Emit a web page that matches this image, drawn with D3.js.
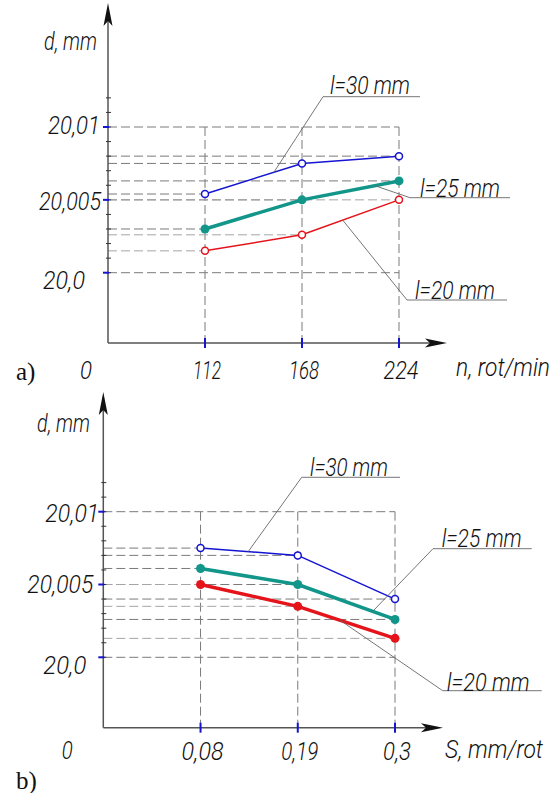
<!DOCTYPE html>
<html>
<head>
<meta charset="utf-8">
<script src="https://cdn.jsdelivr.net/npm/d3@7"></script>
<style>
    html, body { margin: 0; padding: 0; background: #fff; }
    svg { display: block; }
    .gost { font-family: Roboto, 'Liberation Sans Narrow', 'DejaVu Sans Condensed', sans-serif; font-style: italic; font-weight: 300; font-size: 25px; fill: #111; }
    .serif { font-family: 'Liberation Serif', 'DejaVu Serif', serif; font-size: 25px; fill: #111; }
</style>
</head>
<body>
<svg width="560" height="793"></svg>
<script>
// chart data

// a) diameter vs spindle speed
const N_LABELS = ['0', '112', '168', '224'];
const N_D_L30 = [20.0054, 20.0075, 20.008];
const N_D_L25 = [20.003, 20.005, 20.0063];
const N_D_L20 = [20.0015, 20.0026, 20.005];

// b) diameter vs feed
const S_LABELS = ['0', '0,08', '0,19', '0,3'];
const S_D_L30 = [20.0075, 20.007, 20.004];
const S_D_L25 = [20.0061, 20.005, 20.0026];
const S_D_L20 = [20.005, 20.0035, 20.0013];

const SERIES = ['l=30 mm', 'l=25 mm', 'l=20 mm'];
const D_TICKS = [20.0, 20.005, 20.01];
const D_TICK_LABELS = ['20,0', '20,005', '20,01'];
const D_MINOR_STEP = 0.001;
const D_MINOR_MAX = 20.012;

var COLORS = ['#1414d2', '#12968a', '#e5141b'];
var GRID = '#7a7a7a';

var svg = d3.select('svg');

drawPanel({
    xLabels: N_LABELS,
    values: [N_D_L30, N_D_L25, N_D_L20],
    xTitle: 'n, rot/min',
    panelLabel: 'a)',
    left: 108, right: 399, axisY: 343, yLow: 272.7, yHigh: 127,
    arrowTop: 3, arrowRight: 447,
    widths: [1.5, 3.5, 1.5], filled: [false, true, false],
    yLabelOffsets: [[-23, 7], [-7, 1], [-8, -2]],
    zeroOffset: [-22, 27], tickLabelDy: 27, tickLabelWidths: [12, 28, 30, 35],
    yLabelWidths: [42, 62, 52],
    yTitle: { x: 97, y: 41 }, xTitleOffset: [9, 24], xTitleWidth: 94, panelLabelY: 372,
    notes: [
        { seg: 0, t: 0.71, x1: 323, x2: 420, y: 96.7, tx: 330, ty: 85, w: 80 },
        { seg: 1, t: 0.75, x1: 410, x2: 510, y: 197.7, tx: 420, ty: 188, w: 80 },
        { seg: 1, t: 0.42, x1: 407, x2: 507, y: 300, tx: 415, ty: 290, w: 80 }
    ]
});

drawPanel({
    xLabels: S_LABELS,
    values: [S_D_L30, S_D_L25, S_D_L20],
    xTitle: 'S, mm/rot',
    panelLabel: 'b)',
    left: 103.3, right: 395, axisY: 727.7, yLow: 657.3, yHigh: 511.7,
    arrowTop: 392, arrowRight: 443,
    widths: [1.5, 3.5, 3.5], filled: [false, true, true],
    yLabelOffsets: [[-17, 8], [-10, -1], [-4, 1]],
    zeroOffset: [-36, 22], tickLabelDy: 23, tickLabelWidths: [11, 42, 37, 28],
    yLabelWidths: [43, 66, 54],
    yTitle: { x: 90, y: 423 }, xTitleOffset: [2, 21], xTitleWidth: 98, panelLabelY: 781,
    notes: [
        { seg: 0, t: 0.49, x1: 301.7, x2: 400, y: 477.3, tx: 310, ty: 467, w: 78 },
        { seg: 1, t: 0.77, x1: 433, x2: 531.7, y: 548.7, tx: 441.7, ty: 538, w: 80 },
        { seg: 1, t: 0.435, x1: 442.7, x2: 541.7, y: 690.7, tx: 446.7, ty: 681.7, w: 83 }
    ]
});

// draw one panel: axes, dashed grid, three series, leaders
function drawPanel(p) {

    var g = svg.append('g');

    // x positions are evenly spaced, origin included
    var xScale = d3.scalePoint().domain(p.xLabels).range([p.left, p.right]);
    var yScale = d3.scaleLinear().domain([D_TICKS[0], D_TICKS[2]]).range([p.yLow, p.yHigh]);

    var cats = p.xLabels.slice(1);
    var xLast = xScale(cats[cats.length - 1]);

    function dashed(x1, y1, x2, y2, color) {
        g.append('line')
            .attr('x1', x1).attr('y1', y1)
            .attr('x2', x2).attr('y2', y2)
            .attr('stroke', color || GRID)
            .attr('stroke-width', 1)
            .attr('stroke-dasharray', '9,4');
    }

    // vertical dashed lines at each category
    cats.forEach(function(c) {
        dashed(xScale(c), yScale(D_TICKS[2]), xScale(c), p.axisY);
    });

    // frame lines at 20,0 and 20,01
    dashed(p.left, yScale(D_TICKS[0]), xLast, yScale(D_TICKS[0]));
    dashed(p.left, yScale(D_TICKS[2]), xLast, yScale(D_TICKS[2]));

    // projection lines from the axis to every point
    p.values.forEach(function(vals, si) {
        vals.forEach(function(v, i) {
            dashed(p.left, yScale(v), xScale(cats[i]), yScale(v), si === 2 ? '#a5a5a5' : GRID);
        });
    });

    // axes
    g.append('line')
        .attr('x1', p.left).attr('y1', p.axisY)
        .attr('x2', p.arrowRight - 6).attr('y2', p.axisY)
        .attr('stroke', '#555').attr('stroke-width', 1.5);
    g.append('line')
        .attr('x1', p.left).attr('y1', p.axisY)
        .attr('x2', p.left).attr('y2', p.arrowTop + 6)
        .attr('stroke', '#555').attr('stroke-width', 1.5);

    // arrow heads
    g.append('path')
        .attr('d', 'M' + p.arrowRight + ',' + p.axisY +
            'L' + (p.arrowRight - 22) + ',' + (p.axisY - 4.5) +
            'L' + (p.arrowRight - 17) + ',' + p.axisY +
            'L' + (p.arrowRight - 22) + ',' + (p.axisY + 4.5) + 'Z')
        .attr('fill', '#111');
    g.append('path')
        .attr('d', 'M' + p.left + ',' + p.arrowTop +
            'L' + (p.left - 4.5) + ',' + (p.arrowTop + 23) +
            'L' + p.left + ',' + (p.arrowTop + 18) +
            'L' + (p.left + 4.5) + ',' + (p.arrowTop + 23) + 'Z')
        .attr('fill', '#111');

    // minor y ticks
    d3.range(D_TICKS[0], D_MINOR_MAX + D_MINOR_STEP / 2, D_MINOR_STEP).forEach(function(v) {
        g.append('line')
            .attr('x1', p.left - 2).attr('x2', p.left + 3)
            .attr('y1', yScale(v)).attr('y2', yScale(v))
            .attr('stroke', '#333').attr('stroke-width', 1);
    });

    // major y ticks (blue) and labels
    D_TICKS.forEach(function(v, i) {
        g.append('line')
            .attr('x1', p.left - 5).attr('x2', p.left + 1)
            .attr('y1', yScale(v)).attr('y2', yScale(v))
            .attr('stroke', '#1414d2').attr('stroke-width', 2);
        g.append('text')
            .classed('gost', true)
            .attr('x', p.left + p.yLabelOffsets[i][0] - p.yLabelWidths[i])
            .attr('y', yScale(v) + p.yLabelOffsets[i][1])
            .attr('dy', '0.36em')
            .attr('textLength', p.yLabelWidths[i])
            .attr('lengthAdjust', 'spacingAndGlyphs')
            .text(D_TICK_LABELS[i]);
    });

    // x ticks (blue) and labels
    cats.forEach(function(c, i) {
        g.append('line')
            .attr('x1', xScale(c)).attr('x2', xScale(c))
            .attr('y1', p.axisY - 5).attr('y2', p.axisY + 5)
            .attr('stroke', '#1414d2').attr('stroke-width', 2);
        var w = p.tickLabelWidths[i + 1];
        g.append('text')
            .classed('gost', true)
            .attr('x', xScale(c) + 2 - w / 2)
            .attr('y', p.axisY + p.tickLabelDy)
            .attr('dy', '0.36em')
            .attr('textLength', w)
            .attr('lengthAdjust', 'spacingAndGlyphs')
            .text(c);
    });

    // origin label
    g.append('text')
        .classed('gost', true)
        .attr('x', p.left + p.zeroOffset[0] - p.tickLabelWidths[0] / 2)
        .attr('y', p.axisY + p.zeroOffset[1])
        .attr('dy', '0.36em')
        .attr('textLength', p.tickLabelWidths[0])
        .attr('lengthAdjust', 'spacingAndGlyphs')
        .text(p.xLabels[0]);

    // axis titles
    g.append('text')
        .classed('gost', true)
        .attr('x', p.yTitle.x - 53)
        .attr('y', p.yTitle.y)
        .attr('dy', '0.36em')
        .attr('textLength', 53)
        .attr('lengthAdjust', 'spacingAndGlyphs')
        .text('d, mm');
    g.append('text')
        .classed('gost', true)
        .attr('x', p.arrowRight + p.xTitleOffset[0])
        .attr('y', p.axisY + p.xTitleOffset[1])
        .attr('dy', '0.36em')
        .attr('textLength', p.xTitleWidth)
        .attr('lengthAdjust', 'spacingAndGlyphs')
        .text(p.xTitle);

    // panel label
    g.append('text')
        .classed('serif', true)
        .attr('x', 16)
        .attr('y', p.panelLabelY)
        .attr('dy', '0.33em')
        .text(p.panelLabel);

    // series lines and markers
    var line = d3.line()
        .x(function(d, i) { return xScale(cats[i]); })
        .y(function(d) { return yScale(d); });

    p.values.forEach(function(vals, si) {
        g.append('path')
            .datum(vals)
            .attr('fill', 'none')
            .attr('stroke', COLORS[si])
            .attr('stroke-width', p.widths[si])
            .attr('stroke-linejoin', 'round')
            .attr('d', line);

        vals.forEach(function(v, i) {
            g.append('circle')
                .attr('cx', xScale(cats[i]))
                .attr('cy', yScale(v))
                .attr('r', p.filled[si] ? 4.5 : 3.5)
                .attr('fill', p.filled[si] ? COLORS[si] : '#fff')
                .attr('stroke', COLORS[si])
                .attr('stroke-width', p.filled[si] ? 0 : 1.5);
        });
    });

    // leader lines with labels
    p.notes.forEach(function(n, si) {
        var vals = p.values[si];
        var ax = xScale(cats[n.seg]) + n.t * (xScale(cats[n.seg + 1]) - xScale(cats[n.seg]));
        var ay = yScale(vals[n.seg]) + n.t * (yScale(vals[n.seg + 1]) - yScale(vals[n.seg]));

        g.append('polyline')
            .attr('points', [[ax, ay], [n.x1, n.y], [n.x2, n.y]].join(' '))
            .attr('fill', 'none')
            .attr('stroke', '#666')
            .attr('stroke-width', 0.9);

        g.append('text')
            .classed('gost', true)
            .attr('x', n.tx)
            .attr('y', n.ty)
            .attr('dy', '0.36em')
            .attr('textLength', n.w)
            .attr('lengthAdjust', 'spacingAndGlyphs')
            .text(SERIES[si]);
    });
}
</script>
</body>
</html>
